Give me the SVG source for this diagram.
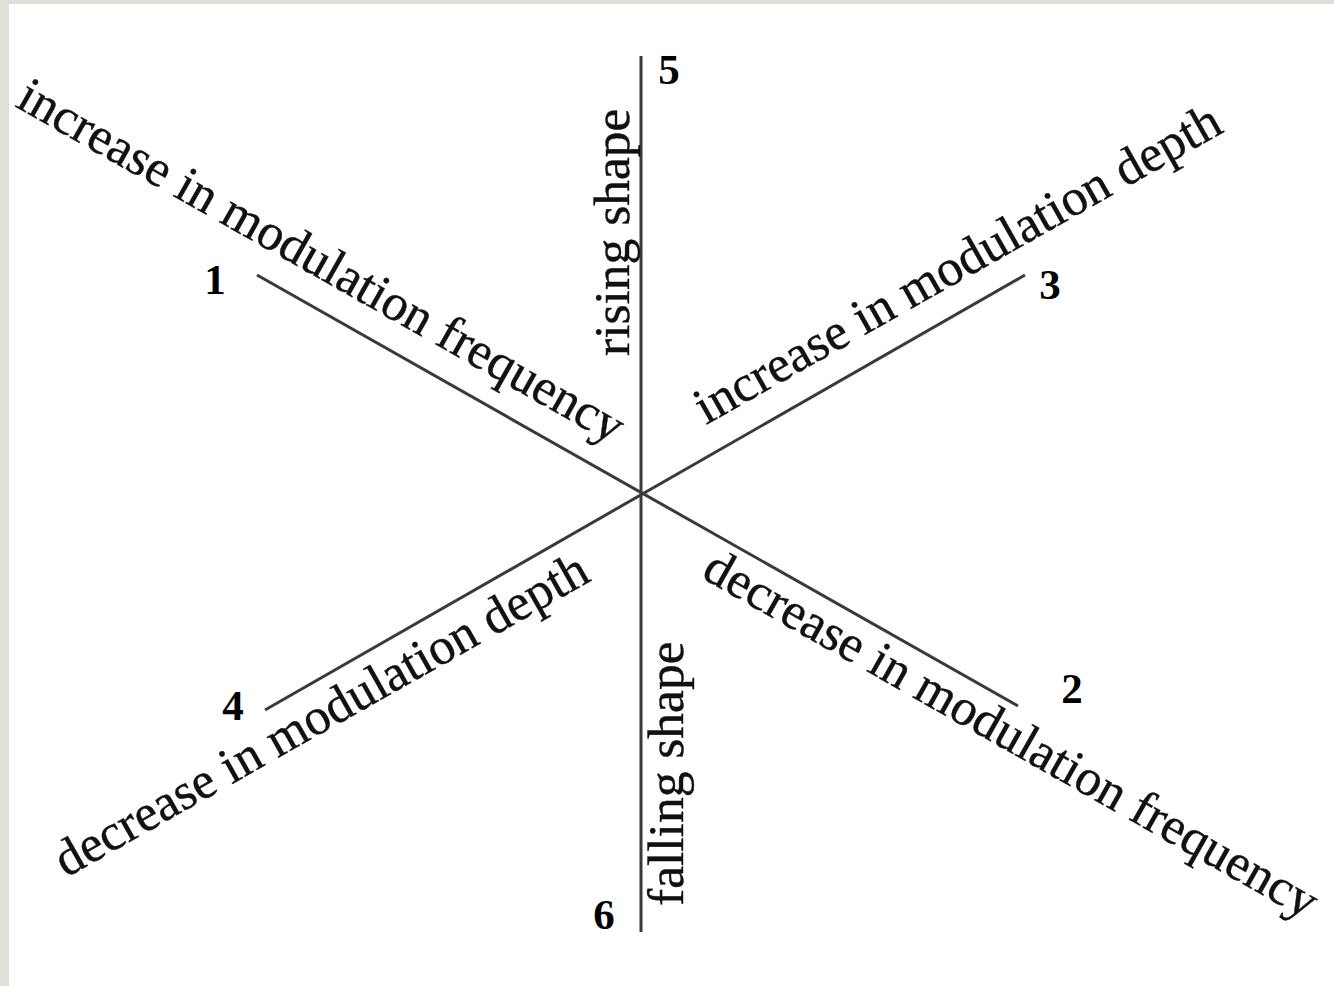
<svg xmlns="http://www.w3.org/2000/svg" width="1334" height="986" viewBox="0 0 1334 986">
<style>
.lbl{font-family:"Liberation Serif","Times New Roman",serif;font-size:51.5px;fill:#111;stroke:#111;stroke-width:0.4}
.num{font-family:"Liberation Serif","Times New Roman",serif;font-size:43px;font-weight:bold;fill:#000;text-anchor:middle}
.ax{stroke:#3a3a3a;stroke-width:3;fill:none}
</style>
<rect x="0" y="0" width="1334" height="986" fill="#dedfd8"/>
<rect x="9" y="4" width="1325" height="982" fill="#ffffff"/>
<g id="connectors">
<line class="ax" x1="641" y1="56" x2="641" y2="932"/>
<line class="ax" x1="257" y1="275" x2="1018" y2="706"/>
<line class="ax" x1="265" y1="710" x2="1025" y2="275"/>
</g>
<g id="axis-1-2">
<text class="lbl" transform="translate(14,106) rotate(29.5)">increase in modulation frequency</text>
<text class="lbl" transform="translate(700,577) rotate(29.5)">decrease in modulation frequency</text>
</g>
<g id="axis-3-4">
<text class="lbl" transform="translate(706,425) rotate(-29.5)">increase in modulation depth</text>
<text class="lbl" transform="translate(66,878) rotate(-29.5)">decrease in modulation depth</text>
</g>
<g id="axis-5-6">
<text class="lbl" transform="translate(629,356) rotate(-90)">rising shape</text>
<text class="lbl" transform="translate(683,906) rotate(-90)">falling shape</text>
</g>
<g id="n1"><text class="num" x="215" y="294">1</text></g>
<g id="n2"><text class="num" x="1072" y="703">2</text></g>
<g id="n3"><text class="num" x="1050" y="299">3</text></g>
<g id="n4"><text class="num" x="233" y="720">4</text></g>
<g id="n5"><text class="num" x="669" y="84">5</text></g>
<g id="n6"><text class="num" x="604" y="929">6</text></g>
</svg>
